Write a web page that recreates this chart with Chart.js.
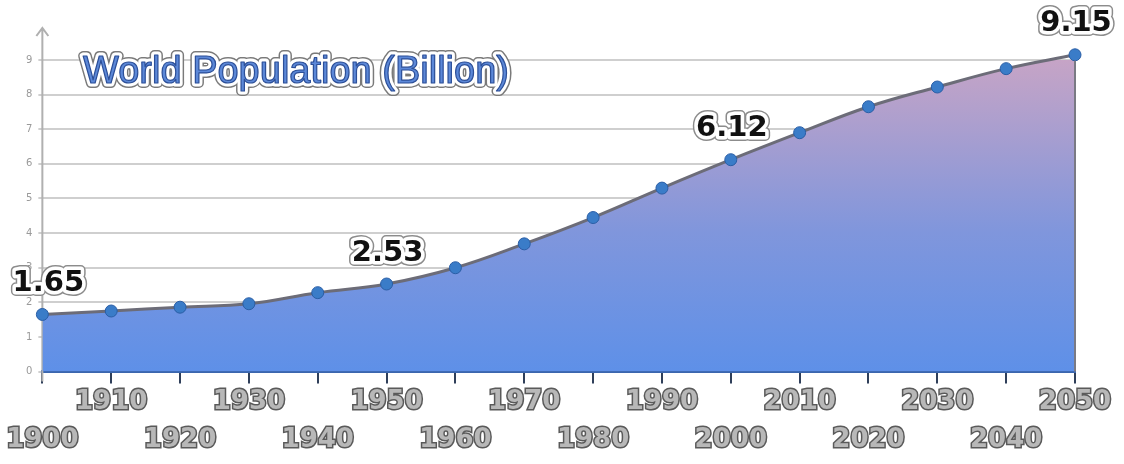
<!DOCTYPE html>
<html>
<head>
<meta charset="utf-8">
<script src="https://cdn.jsdelivr.net/npm/chart.js@4.4.1/dist/chart.umd.min.js"></script>
<style>
  body { margin: 0; background: #fff; }
  canvas { display: block; }
</style>
</head>
<body>
<canvas id="popChart" width="1124" height="464"></canvas>
<script>
const years = ["1900", "1910", "1920", "1930", "1940", "1950", "1960", "1970",
               "1980", "1990", "2000", "2010", "2020", "2030", "2040", "2050"];
const population = [1.65, 1.75, 1.86, 1.96, 2.28, 2.53, 3.0, 3.69,
                    4.45, 5.3, 6.12, 6.9, 7.65, 8.22, 8.75, 9.15];
const labelledYears = ["1900", "1950", "2000", "2050"];
const chartTitle = "World Population (Billion)";

const ctx = document.getElementById("popChart").getContext("2d");

// outlined "sticker" text
function stickerText(c, text, x, y, font, fill, inner, outer) {
    c.save();
    c.font = font;
    c.textAlign = "center";
    c.textBaseline = "middle";
    c.lineJoin = "round";
    c.strokeStyle = outer;
    c.lineWidth = 10;
    c.strokeText(text, x, y);
    c.strokeStyle = "#ffffff";
    c.lineWidth = 7;
    c.strokeText(text, x, y);
    c.fillStyle = fill;
    c.fillText(text, x, y);
    if (inner) {
        c.strokeStyle = inner;
        c.lineWidth = 1.2;
        c.strokeText(text, x, y);
    }
    c.restore();
}

/* ---- axis arrow, edge line, value labels, title ---- */
const decorations = {
    id: "decorations",
    beforeDatasetsDraw(chart) {
        const c = chart.ctx;
        const area = chart.chartArea;
        c.save();
        c.strokeStyle = "#b0b0b0";
        c.lineWidth = 2;
        c.beginPath();
        c.moveTo(area.left, area.bottom + 10);
        c.lineTo(area.left, 28);
        c.moveTo(area.left - 6, 36);
        c.lineTo(area.left, 28);
        c.lineTo(area.left + 6, 36);
        c.stroke();
        c.restore();
    },
    afterDatasetsDraw(chart) {
        const c = chart.ctx;
        const area = chart.chartArea;
        const meta = chart.getDatasetMeta(0);
        const last = meta.data[meta.data.length - 1];
        c.save();
        c.strokeStyle = "#7a7a84";
        c.lineWidth = 2;
        c.beginPath();
        c.moveTo(last.x, last.y + 6);
        c.lineTo(last.x, area.bottom);
        c.stroke();
        c.restore();

        years.forEach((yr, i) => {
            if (!labelledYears.includes(yr)) return;
            const p = meta.data[i];
            const dx = i === 0 ? 6 : 1;
            stickerText(c, population[i].toFixed(2), p.x + dx, p.y - 31,
                "bold 29px 'DejaVu Sans'", "#111111", null, "#8c8c8c");
        });

        stickerText(c, chartTitle, 296, 73, "38px 'Liberation Sans'",
            "#5c88d8", "#2c4f98", "#7a7a7a");
    }
};

new Chart(ctx, {
    type: "line",
    data: {
        labels: years,
        datasets: [{
            data: population,
            borderColor: "#6c6c78",
            borderWidth: 3,
            tension: 0.4,
            fill: true,
            backgroundColor: (context) => {
                const area = context.chart.chartArea;
                if (!area) return "#6a95e0";
                const g = context.chart.ctx.createLinearGradient(0, area.bottom, 0, area.top);
                g.addColorStop(0, "#5e90e8");
                g.addColorStop(0.45, "#8096dc");
                g.addColorStop(1, "#c6a4c6");
                return g;
            },
            pointRadius: 6,
            pointBackgroundColor: "#3a7cc8",
            pointBorderColor: "#2a5ea6",
            pointBorderWidth: 1,
            clip: false
        }]
    },
    options: {
        responsive: false,
        animation: false,
        layout: {
            padding: { left: 20, right: 49, top: 60, bottom: 5 }
        },
        plugins: {
            legend: { display: false },
            tooltip: { enabled: false }
        },
        scales: {
            x: {
                offset: false,
                border: { color: "#3b66ae", width: 3 },
                grid: {
                    drawOnChartArea: false,
                    drawTicks: true,
                    tickLength: 12,
                    color: "#2f3f5a",
                    lineWidth: 2
                },
                ticks: {
                    autoSkip: false,
                    maxRotation: 0,
                    padding: 0,
                    color: "#b8b8b8",
                    textStrokeColor: "#5a5a5a",
                    textStrokeWidth: 3,
                    font: { family: "'DejaVu Sans'", size: 26, weight: "bold", lineHeight: 1.45 },
                    callback: (val, i) => i % 2 === 0 ? ["", years[i]] : [years[i], ""]
                }
            },
            y: {
                min: 0,
                max: 9,
                border: { display: false },
                grid: {
                    color: "#cfcfcf",
                    lineWidth: 2,
                    tickLength: 4
                },
                ticks: {
                    stepSize: 1,
                    padding: 6,
                    color: "#9a9a9a",
                    font: { family: "'DejaVu Sans'", size: 10 }
                }
            }
        }
    },
    plugins: [decorations]
});
</script>
</body>
</html>
